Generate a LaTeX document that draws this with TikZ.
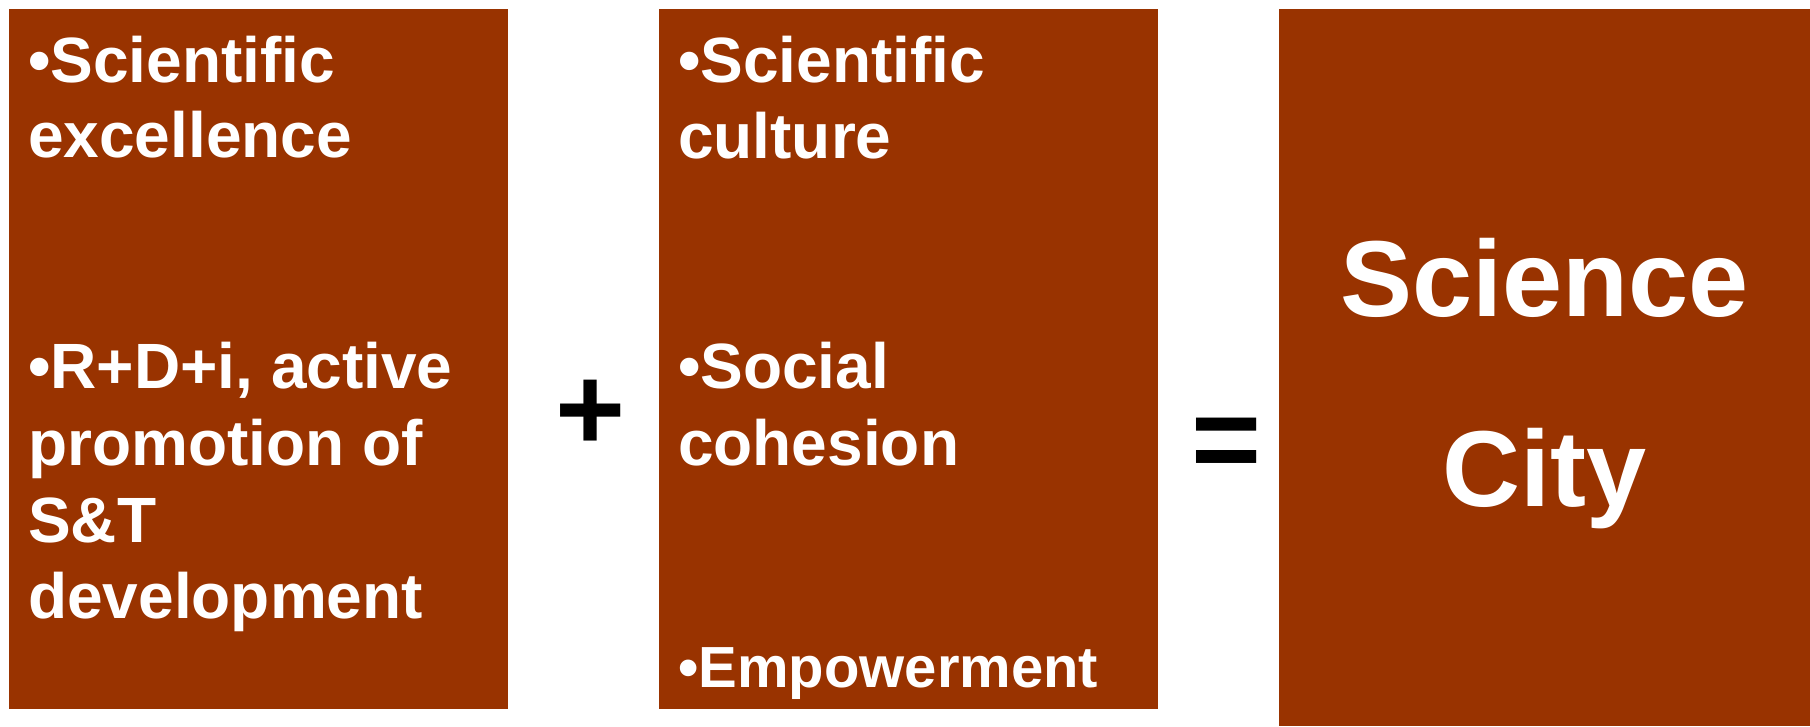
\documentclass[tikz,border=0pt]{standalone}
\usepackage{fontspec}
\setmainfont{Liberation Sans}
\definecolor{brick}{RGB}{153,51,0}
\begin{document}
\begin{tikzpicture}[x=1pt,y=-1pt,
  panel/.style={fill=brick, draw=none, inner sep=0pt, anchor=north west},
  item/.style={text=white, inner sep=0pt, anchor=base west,
    font=\fontsize{64}{75}\selectfont\bfseries},
  smallitem/.style={item, font=\fontsize{58}{68}\selectfont\bfseries},
  title/.style={text=white, inner sep=0pt, anchor=base,
    font=\fontsize{108}{130}\selectfont\bfseries},
  op/.style={text=black, inner sep=0pt, anchor=base,
    font=\fontsize{120}{140}\selectfont\bfseries}]
  \useasboundingbox (0,0) rectangle (1810,726);

  % three panels
  \node[panel, minimum width=499pt, minimum height=700pt] (left) at (9,9) {};
  \node[panel, minimum width=499pt, minimum height=700pt] (mid) at (659,9) {};
  \node[panel, minimum width=531pt, minimum height=717pt] (right) at (1279,9) {};

  % left panel items
  \node[item] (a1) at (28,82)  {•Scientific};
  \node[item] (a2) at (28,157) {excellence};
  \node[item] (a3) at (28,388) {•R+D+i, active};
  \node[item] (a4) at (28,465) {promotion of};
  \node[item] (a5) at (28,542) {S\&T};
  \node[item] (a6) at (28,618) {development};

  % middle panel items
  \node[item] (b1) at (678,82)  {•Scientific};
  \node[item] (b2) at (678,158) {culture};
  \node[item] (b3) at (678,388) {•Social};
  \node[item] (b4) at (678,465) {cohesion};
  \node[smallitem] (b5) at (678,687) {•Empowerment};

  % result panel
  \node[title] (c1) at (1544.5,316) {Science};
  \node[title] (c2) at (1544.5,506) {City};

  % operators
  \node[op] (plus) at (591,450) {+};
  \node[op] (eq) at (1226.5,480) {=};
\end{tikzpicture}
\end{document}
